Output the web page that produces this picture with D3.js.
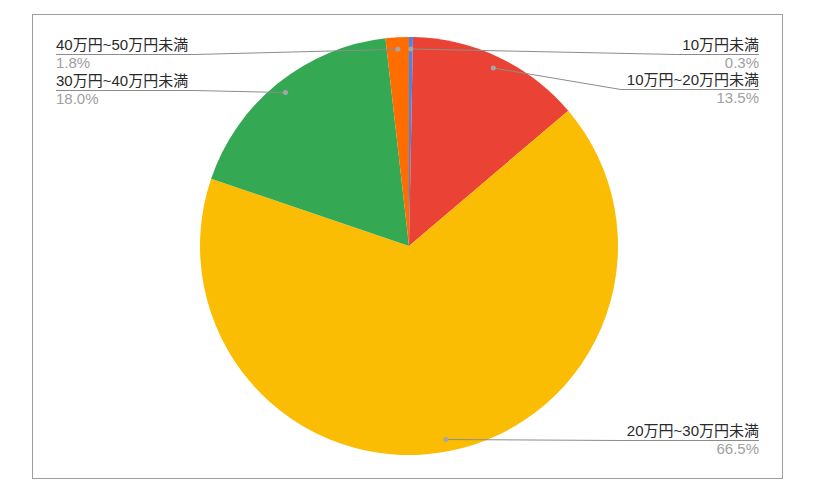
<!DOCTYPE html>
<html>
<head>
<meta charset="utf-8">
<script src="https://cdn.jsdelivr.net/npm/d3@7"></script>
<style>
  html, body { margin: 0; padding: 0; background: #fff; }
  svg { display: block; font-family: "Liberation Sans", Arial, "Noto Sans CJK JP", sans-serif; }
</style>
</head>
<body>
<svg id="chart" width="813" height="499"></svg>
<script>
// ---- data ----
const categories = ["10万円未満", "10万円~20万円未満", "20万円~30万円未満", "30万円~40万円未満", "40万円~50万円未満"];
const values = [0.3, 13.5, 66.5, 18.0, 1.8];
const percentLabels = ["0.3%", "13.5%", "66.5%", "18.0%", "1.8%"];
const colors = ["#4285f4", "#ea4335", "#fbbc04", "#34a853", "#ff6d01"];

// ---- layout ----
const labelSide = ["right", "right", "right", "left", "left"];
const labelBaseline = [50, 85, 436, 86, 50];

const svg = d3.select("#chart");
const cx = 409, cy = 246, r = 209, dotR = 197;
const rightX = 759, leftX = 56;
const fs = 15;

svg.append("rect").attr("x", 32.5).attr("y", 14.5).attr("width", 750).attr("height", 464)
  .attr("fill", "#fff").attr("stroke", "#9e9e9e").attr("stroke-width", 1);

const data = categories.map((c, i) => ({ name: c, value: values[i], pct: percentLabels[i], color: colors[i], side: labelSide[i], by: labelBaseline[i] }));

const pie = d3.pie().sort(null).value(d => d.value).startAngle(0).endAngle(2 * Math.PI);
const arcs = pie(data);
const arc = d3.arc().innerRadius(0).outerRadius(r);

const g = svg.append("g").attr("transform", `translate(${cx},${cy})`);
g.selectAll("path.slice").data(arcs).enter().append("path")
  .attr("class", "slice")
  .attr("d", arc)
  .attr("fill", d => d.data.color);

const labels = svg.append("g");
arcs.forEach(a => {
  const d = a.data;
  const mid = (a.startAngle + a.endAngle) / 2;
  const px = cx + dotR * Math.sin(mid);
  const py = cy - dotR * Math.cos(mid);
  const t = labels.append("text")
    .attr("y", d.by)
    .attr("font-size", fs)
    .attr("fill", "#2a2a2a")
    .text(d.name);
  labels.append("text")
    .attr("y", d.by + 18)
    .attr("font-size", fs)
    .attr("fill", "#a0a0a0")
    .attr("x", d.side === "right" ? rightX : leftX)
    .attr("text-anchor", d.side === "right" ? "end" : "start")
    .text(d.pct);
  if (d.side === "right") {
    t.attr("x", rightX).attr("text-anchor", "end");
  } else {
    t.attr("x", leftX).attr("text-anchor", "start");
  }
  const len = t.node().getComputedTextLength();
  const uy = d.by + 4.5;
  let pts;
  if (d.side === "right") {
    const start = rightX - len - 6;
    pts = [[px, py], [start, uy], [rightX, uy]];
  } else {
    const end = leftX + len + 6;
    pts = [[px, py], [end, uy], [leftX, uy]];
  }
  labels.append("path")
    .attr("d", d3.line()(pts))
    .attr("fill", "none")
    .attr("stroke", "#8c8c8c")
    .attr("stroke-width", 1);
  labels.append("circle")
    .attr("cx", px).attr("cy", py).attr("r", 2.5)
    .attr("fill", "#a6a6a6");
});
</script>
</body>
</html>
